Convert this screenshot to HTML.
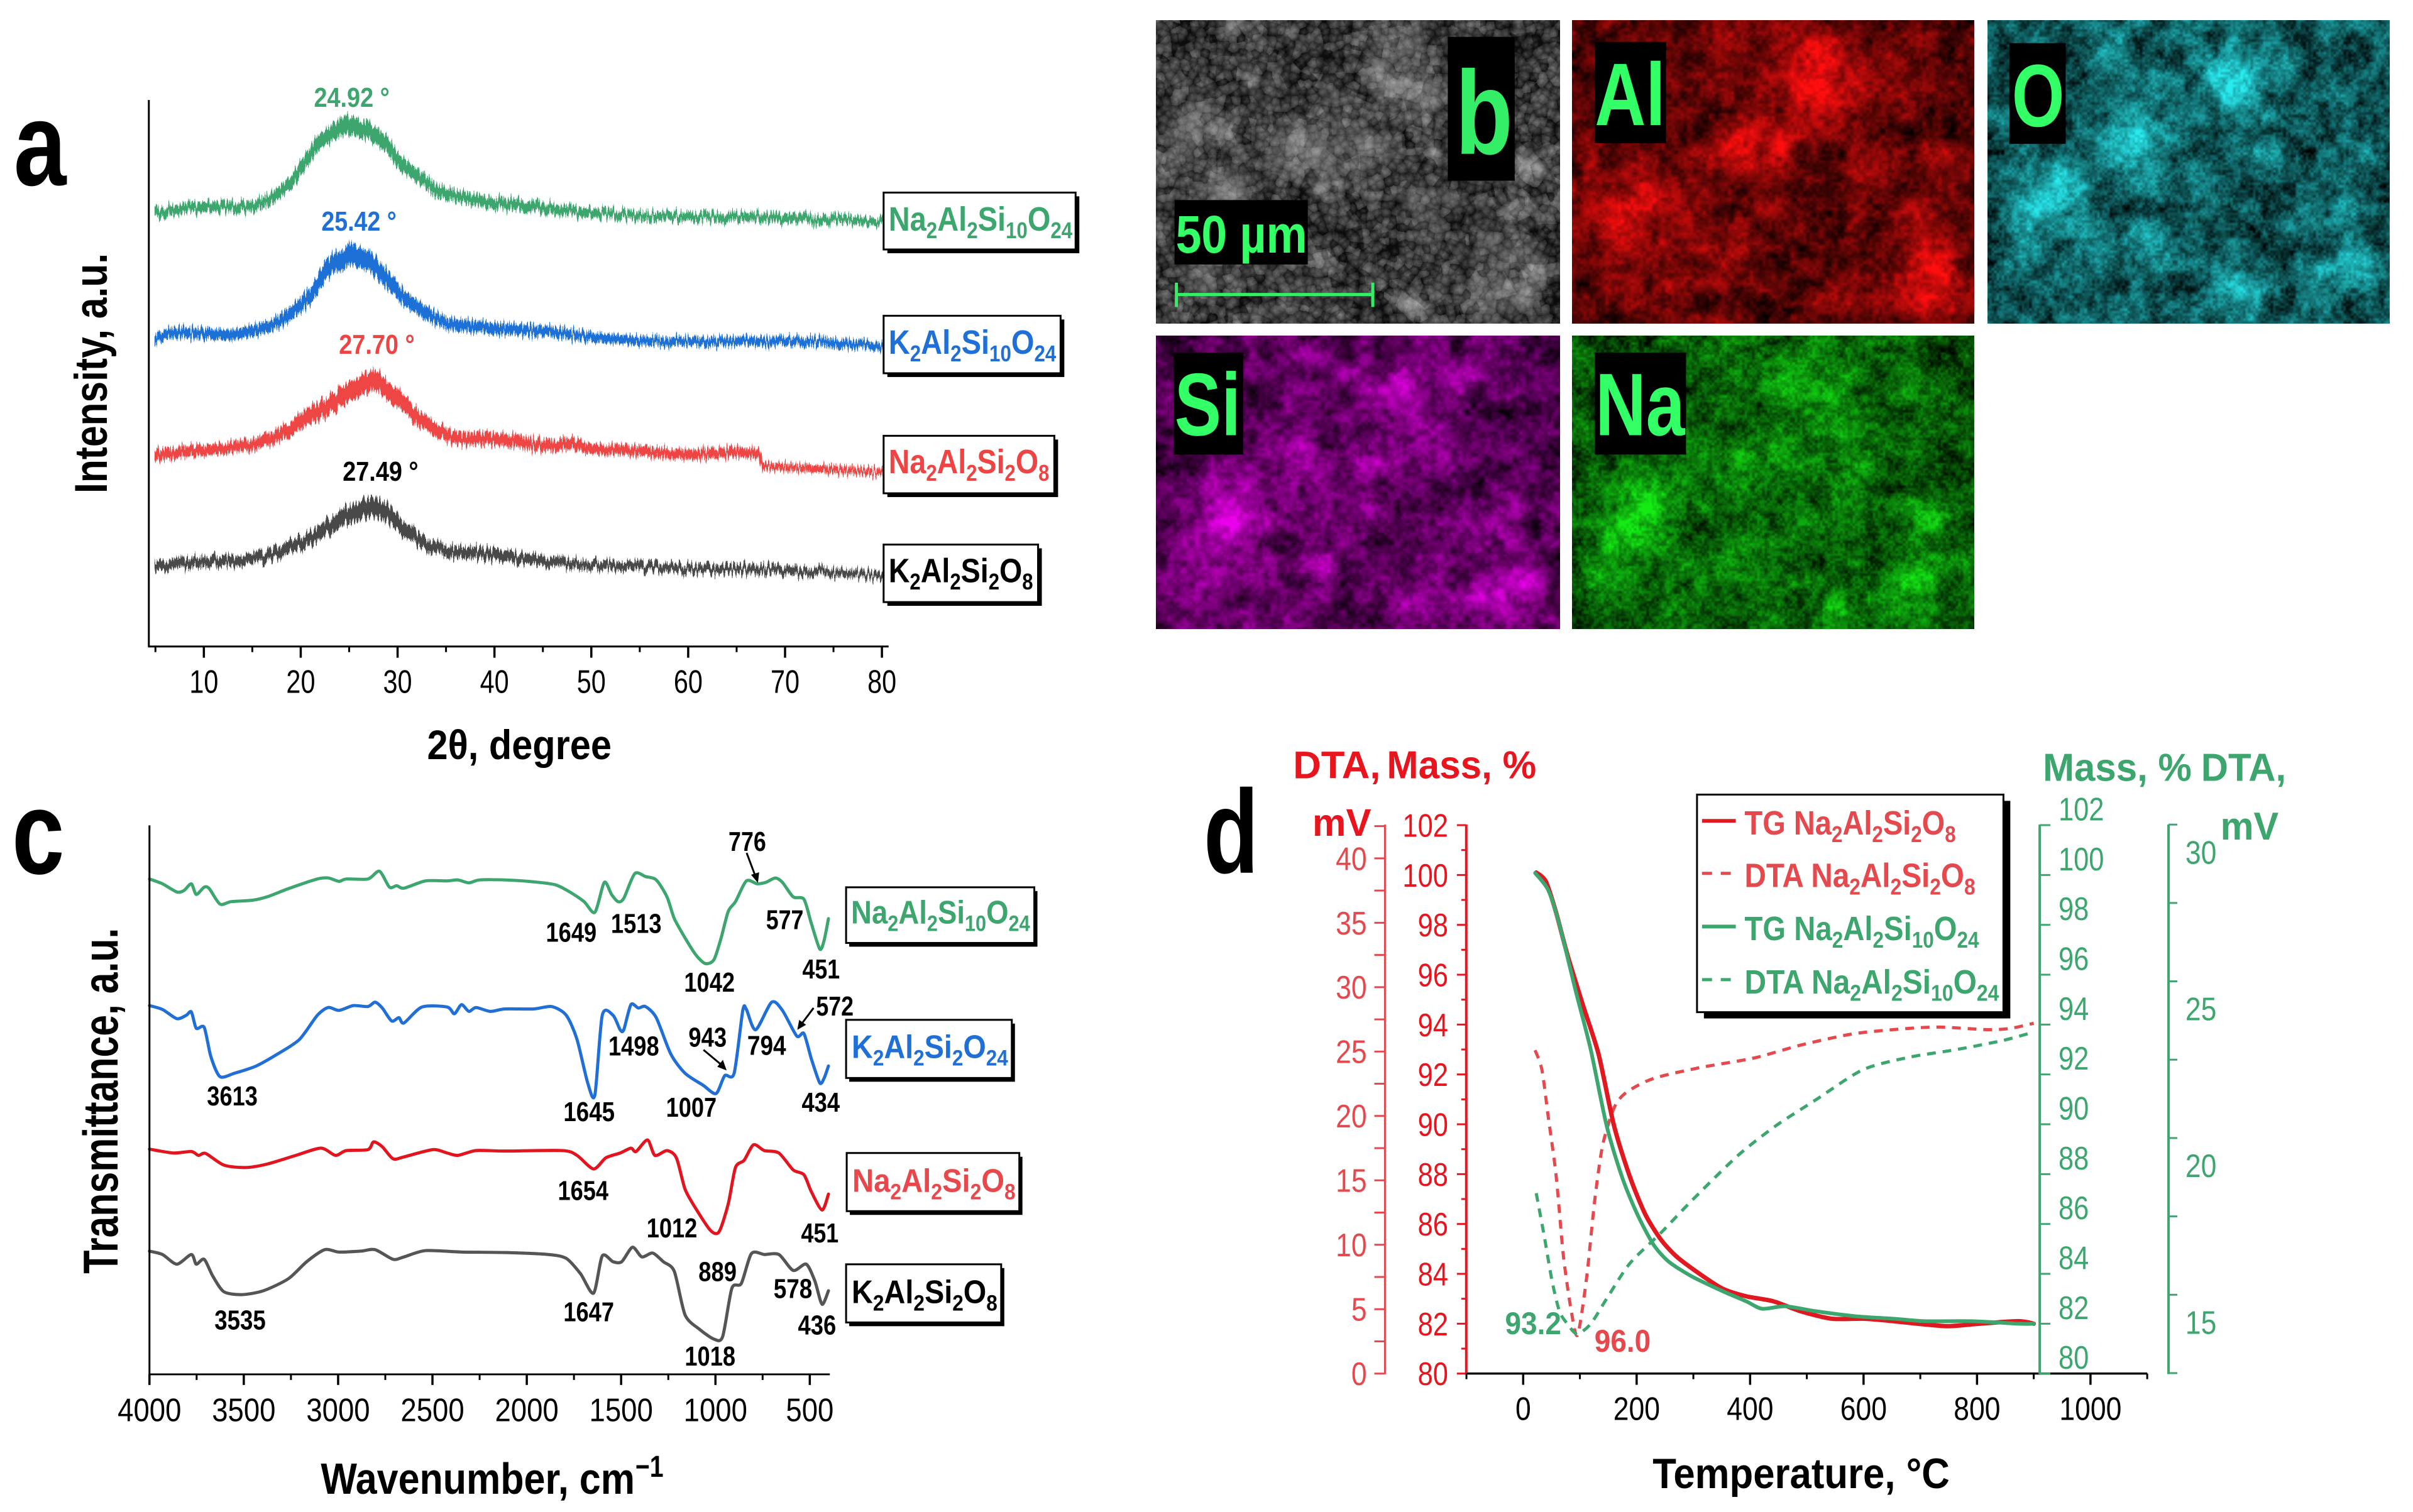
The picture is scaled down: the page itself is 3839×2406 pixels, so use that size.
<!DOCTYPE html>
<html lang="en">
<head>
<meta charset="utf-8">
<title>Aluminosilicate characterisation figure</title>
<style>
html,body{margin:0;padding:0;background:#fff}
#figure{position:relative;width:3839px;height:2406px;overflow:hidden;background:#fff}
canvas{position:absolute;display:block}
svg{position:absolute;left:0;top:0}
text{font-family:"Liberation Sans",sans-serif}
.b{font-weight:bold}
</style>
</head>
<body>
<div id="figure">
<canvas id="map-sem" width="643" height="483" style="left:1839px;top:32px"></canvas>
<canvas id="map-al" width="640" height="483" style="left:2501px;top:32px"></canvas>
<canvas id="map-o" width="640" height="483" style="left:3162px;top:32px"></canvas>
<canvas id="map-si" width="643" height="467" style="left:1839px;top:534px"></canvas>
<canvas id="map-na" width="640" height="467" style="left:2501px;top:534px"></canvas>

<svg id="art" width="3839" height="2406" viewBox="0 0 3839 2406" xmlns="http://www.w3.org/2000/svg">
<defs>
<filter id="xrd-noise" filterUnits="userSpaceOnUse" x="230" y="130" width="1200" height="920">
<feTurbulence type="fractalNoise" baseFrequency="0.42 0.004" numOctaves="2" seed="4" result="n"/>
<feColorMatrix in="n" type="matrix" values="0 0 0 0 0.5  1.6 0 0 0 -0.3  0 0 0 0 0  0 0 0 0 1" result="m"/>
<feDisplacementMap in="SourceGraphic" in2="m" scale="20" xChannelSelector="R" yChannelSelector="G"/>
</filter>
</defs>

<!-- Panel a -->
<g id="panel-a" transform="scale(.9949)">
<g id="a-traces" filter="url(#xrd-noise)"></g>
<g id="a-axes"></g>
<text class="b" x="22" y="296" data-w="84" font-size="190" fill="#000">a</text>
<text class="b" x="171" y="789" data-r="-90" data-w="384" font-size="74" fill="#000">Intensity, a.u.</text>
<text class="b" x="683" y="1214" data-w="295" font-size="66" fill="#000">2θ, degree</text>
<text class="b" x="502" y="171" data-w="121" font-size="44" fill="#3ca66e">24.92 °</text>
<text class="b" x="514" y="369" data-w="120" font-size="44" fill="#1f6fd6">25.42 °</text>
<text class="b" x="542" y="566" data-w="121" font-size="44" fill="#ee4444">27.70 °</text>
<text class="b" x="548" y="769" data-w="121" font-size="44" fill="#000">27.49 °</text>

<g><rect x="1419" y="314" width="307" height="91" fill="#000"/><rect x="1413" y="308" width="307" height="91" fill="#fff" stroke="#000" stroke-width="3"/>
<text class="b" x="1421" y="369" data-w="294" font-size="54" fill="#3ca66e">Na<tspan dy="12" font-size="36">2</tspan><tspan dy="-12">Al</tspan><tspan dy="12" font-size="36">2</tspan><tspan dy="-12">Si</tspan><tspan dy="12" font-size="36">10</tspan><tspan dy="-12">O</tspan><tspan dy="12" font-size="36">24</tspan></text></g>
<g><rect x="1419" y="511" width="283" height="92" fill="#000"/><rect x="1413" y="505" width="283" height="92" fill="#fff" stroke="#000" stroke-width="3"/>
<text class="b" x="1421" y="566" data-w="268" font-size="54" fill="#1f6fd6">K<tspan dy="12" font-size="36">2</tspan><tspan dy="-12">Al</tspan><tspan dy="12" font-size="36">2</tspan><tspan dy="-12">Si</tspan><tspan dy="12" font-size="36">10</tspan><tspan dy="-12">O</tspan><tspan dy="12" font-size="36">24</tspan></text></g>
<g><rect x="1419" y="703" width="273" height="92" fill="#000"/><rect x="1413" y="697" width="273" height="92" fill="#fff" stroke="#000" stroke-width="3"/>
<text class="b" x="1421" y="757" data-w="257" font-size="54" fill="#ee4444">Na<tspan dy="12" font-size="36">2</tspan><tspan dy="-12">Al</tspan><tspan dy="12" font-size="36">2</tspan><tspan dy="-12">Si</tspan><tspan dy="12" font-size="36">2</tspan><tspan dy="-12">O</tspan><tspan dy="12" font-size="36">8</tspan></text></g>
<g><rect x="1419" y="877" width="247" height="92" fill="#000"/><rect x="1413" y="871" width="247" height="92" fill="#fff" stroke="#000" stroke-width="3"/>
<text class="b" x="1421" y="931" data-w="231" font-size="54" fill="#000">K<tspan dy="12" font-size="36">2</tspan><tspan dy="-12">Al</tspan><tspan dy="12" font-size="36">2</tspan><tspan dy="-12">Si</tspan><tspan dy="12" font-size="36">2</tspan><tspan dy="-12">O</tspan><tspan dy="12" font-size="36">8</tspan></text></g>
</g>

<!-- Panel b labels -->
<g id="panel-b" transform="translate(9.18 0) scale(.9949)">
<rect x="2306" y="59" width="107" height="230" fill="#000"/>
<text class="b" x="2318" y="246" data-w="92" font-size="190" fill="#33ee66">b</text>
<rect x="2541" y="67" width="114" height="162" fill="#000"/>
<text class="b" x="2541" y="200" data-w="113" font-size="142" fill="#33ff66">Al</text>
<rect x="3204" y="69" width="90" height="161" fill="#000"/>
<text class="b" x="3208" y="202" data-w="84" font-size="142" fill="#33ff66">O</text>
<rect x="1868" y="564" width="111" height="163" fill="#000"/>
<text class="b" x="1869" y="696" data-w="106" font-size="142" fill="#33ff66">Si</text>
<rect x="2541" y="564" width="146" height="163" fill="#000"/>
<text class="b" x="2542" y="696" data-w="143" font-size="142" fill="#33ff66">Na</text>
<rect x="1869" y="320" width="213" height="103" fill="#000"/>
<text class="b" x="1871" y="404" data-w="210" font-size="85" fill="#33ff66">50 µm</text>
<g stroke="#33ee66" stroke-width="5" fill="none">
<path d="M1872 471H2186M1872 452V491M2186 452V491"/>
</g>
</g>

<!-- Panel c -->
<g id="panel-c" transform="translate(0 6.12) scale(.9949)">
<g id="c-traces"></g>
<g id="c-axes"></g>
<text class="b" x="19" y="1391" data-w="84" font-size="190" fill="#000">c</text>
<text class="b" x="188" y="2031" data-r="-90" data-w="553" font-size="78" fill="#000">Transmittance, a.u.</text>
<text class="b" x="513" y="2383" data-w="502" font-size="70" fill="#000">Wavenumber, cm</text>
<text class="b" x="1016" y="2356" data-w="45" font-size="48" fill="#000">−1</text>

<g fill="#000" font-size="44">
<text class="b" x="1165" y="1355" data-w="60">776</text>
<text class="b" x="873" y="1500" data-w="81">1649</text>
<text class="b" x="977" y="1486" data-w="81">1513</text>
<text class="b" x="1225" y="1480" data-w="60">577</text>
<text class="b" x="1094" y="1580" data-w="81">1042</text>
<text class="b" x="1283" y="1559" data-w="60">451</text>
<text class="b" x="1305" y="1618" data-w="60">572</text>
<text class="b" x="1101" y="1668" data-w="61">943</text>
<text class="b" x="1195" y="1681" data-w="62">794</text>
<text class="b" x="973" y="1682" data-w="81">1498</text>
<text class="b" x="331" y="1762" data-w="81">3613</text>
<text class="b" x="901" y="1787" data-w="82">1645</text>
<text class="b" x="1065" y="1780" data-w="81">1007</text>
<text class="b" x="1282" y="1772" data-w="61">434</text>
<text class="b" x="892" y="1913" data-w="81">1654</text>
<text class="b" x="1034" y="1973" data-w="81">1012</text>
<text class="b" x="1281" y="1981" data-w="60">451</text>
<text class="b" x="1117" y="2043" data-w="61">889</text>
<text class="b" x="1237" y="2070" data-w="62">578</text>
<text class="b" x="343" y="2120" data-w="82">3535</text>
<text class="b" x="901" y="2107" data-w="81">1647</text>
<text class="b" x="1276" y="2128" data-w="61">436</text>
<text class="b" x="1095" y="2178" data-w="81">1018</text>
</g>

<g stroke="#000" stroke-width="3" fill="#000">
<path d="M1194 1358L1209 1398"/><path d="M1212 1406L1201 1393L1214 1389Z" stroke="none"/>
<path d="M1301 1606L1280 1634"/><path d="M1275 1641L1278 1625L1289 1633Z" stroke="none"/>
<path d="M1125 1673L1156 1699"/><path d="M1162 1706L1147 1700L1156 1689Z" stroke="none"/>
</g>

<g><rect x="1358" y="1419" width="301" height="89" fill="#000"/><rect x="1353" y="1413" width="301" height="89" fill="#fff" stroke="#000" stroke-width="3"/>
<text class="b" x="1361" y="1471" data-w="286" font-size="52" fill="#3ca66e">Na<tspan dy="12" font-size="35">2</tspan><tspan dy="-12">Al</tspan><tspan dy="12" font-size="35">2</tspan><tspan dy="-12">Si</tspan><tspan dy="12" font-size="35">10</tspan><tspan dy="-12">O</tspan><tspan dy="12" font-size="35">24</tspan></text></g>
<g><rect x="1358" y="1631" width="265" height="93" fill="#000"/><rect x="1353" y="1625" width="265" height="93" fill="#fff" stroke="#000" stroke-width="3"/>
<text class="b" x="1362" y="1686" data-w="250" font-size="52" fill="#1f6fd6">K<tspan dy="12" font-size="35">2</tspan><tspan dy="-12">Al</tspan><tspan dy="12" font-size="35">2</tspan><tspan dy="-12">Si</tspan><tspan dy="12" font-size="35">2</tspan><tspan dy="-12">O</tspan><tspan dy="12" font-size="35">24</tspan></text></g>
<g><rect x="1359" y="1844" width="276" height="93" fill="#000"/><rect x="1354" y="1838" width="276" height="93" fill="#fff" stroke="#000" stroke-width="3"/>
<text class="b" x="1363" y="1900" data-w="261" font-size="52" fill="#e8484c">Na<tspan dy="12" font-size="35">2</tspan><tspan dy="-12">Al</tspan><tspan dy="12" font-size="35">2</tspan><tspan dy="-12">Si</tspan><tspan dy="12" font-size="35">2</tspan><tspan dy="-12">O</tspan><tspan dy="12" font-size="35">8</tspan></text></g>
<g><rect x="1358" y="2022" width="248" height="93" fill="#000"/><rect x="1353" y="2016" width="248" height="93" fill="#fff" stroke="#000" stroke-width="3"/>
<text class="b" x="1362" y="2078" data-w="233" font-size="52" fill="#000">K<tspan dy="12" font-size="35">2</tspan><tspan dy="-12">Al</tspan><tspan dy="12" font-size="35">2</tspan><tspan dy="-12">Si</tspan><tspan dy="12" font-size="35">2</tspan><tspan dy="-12">O</tspan><tspan dy="12" font-size="35">8</tspan></text></g>
</g>

<!-- Panel d -->
<g id="panel-d" transform="translate(9.69 5.865) scale(.9949)">
<g id="d-axes"></g>
<g id="d-traces"></g>
<text class="b" x="1915" y="1390" data-w="88" font-size="190" fill="#000">d</text>
<text class="b" x="2058" y="1239" data-w="140" font-size="62" fill="#e8141e">DTA,</text>
<text class="b" x="2208" y="1239" data-w="239" font-size="62" fill="#e8141e">Mass, %</text>
<text class="b" x="2089" y="1331" data-w="94" font-size="62" fill="#e8141e">mV</text>
<text class="b" x="3257" y="1243" data-w="238" font-size="62" fill="#3ca66e">Mass, %</text>
<text class="b" x="3510" y="1243" data-w="136" font-size="62" fill="#3ca66e">DTA,</text>
<text class="b" x="3541" y="1337" data-w="93" font-size="62" fill="#3ca66e">mV</text>
<text class="b" x="2633" y="2374" data-w="475" font-size="68" fill="#000">Temperature, °C</text>
<text class="b" x="2397" y="2128" data-w="90" font-size="50" fill="#3ca66e">93.2</text>
<text class="b" x="2540" y="2156" data-w="90" font-size="50" fill="#e5484d">96.0</text>

<g>
<rect x="2715" y="1275" width="490" height="348" fill="#000"/>
<rect x="2704" y="1265" width="490" height="348" fill="#fff" stroke="#000" stroke-width="3"/>
<line x1="2712" y1="1307" x2="2766" y2="1307" stroke="#e01820" stroke-width="6"/>
<line x1="2712" y1="1391" x2="2766" y2="1391" stroke="#e5484d" stroke-width="5" stroke-dasharray="16 14"/>
<line x1="2712" y1="1476" x2="2766" y2="1476" stroke="#3ca66e" stroke-width="6"/>
<line x1="2712" y1="1561" x2="2766" y2="1561" stroke="#3ca66e" stroke-width="5" stroke-dasharray="16 14"/>
<text class="b" x="2780" y="1329" data-w="338" font-size="54" fill="#e5484d">TG Na<tspan dy="12" font-size="36">2</tspan><tspan dy="-12">Al</tspan><tspan dy="12" font-size="36">2</tspan><tspan dy="-12">Si</tspan><tspan dy="12" font-size="36">2</tspan><tspan dy="-12">O</tspan><tspan dy="12" font-size="36">8</tspan></text>
<text class="b" x="2780" y="1413" data-w="369" font-size="54" fill="#e5484d">DTA Na<tspan dy="12" font-size="36">2</tspan><tspan dy="-12">Al</tspan><tspan dy="12" font-size="36">2</tspan><tspan dy="-12">Si</tspan><tspan dy="12" font-size="36">2</tspan><tspan dy="-12">O</tspan><tspan dy="12" font-size="36">8</tspan></text>
<text class="b" x="2780" y="1498" data-w="375" font-size="54" fill="#3ca66e">TG Na<tspan dy="12" font-size="36">2</tspan><tspan dy="-12">Al</tspan><tspan dy="12" font-size="36">2</tspan><tspan dy="-12">Si</tspan><tspan dy="12" font-size="36">10</tspan><tspan dy="-12">O</tspan><tspan dy="12" font-size="36">24</tspan></text>
<text class="b" x="2780" y="1583" data-w="407" font-size="54" fill="#3ca66e">DTA Na<tspan dy="12" font-size="36">2</tspan><tspan dy="-12">Al</tspan><tspan dy="12" font-size="36">2</tspan><tspan dy="-12">Si</tspan><tspan dy="12" font-size="36">10</tspan><tspan dy="-12">O</tspan><tspan dy="12" font-size="36">24</tspan></text>
</g>
</g>
</svg>
</div>

<script>
// ---------- Panel a: XRD (2-theta, intensity a.u., trace thickness a.u.) ----------
const xrdGreenTheta = [5,7.5,10,13,15,17,19,20,22,24,25,27,29,30,32,34,36,40,45,50,55,60,65,70,75,80];
const xrdGreenCounts = [865,875,878,877,878,895,925,955,1010,1035,1040,1030,1000,970,940,912,897,885,877,865,860,858,857,855,852,847];
const xrdGreenThickness = [15,15,16,16,16,18,20,22,25,30,32,30,26,24,22,20,18,18,16,14,13,13,13,14,13,11];
const xrdBlueTheta = [5,7,10,13,15,17,19,21,23,25,27,29,31,33,35,40,45,50,55,60,65,70,75,80];
const xrdBlueCounts = [615,627,625,622,630,640,665,700,760,783,770,730,690,665,645,635,630,618,610,608,610,610,607,600];
const xrdBlueThickness = [15,16,16,16,18,18,22,26,32,38,34,30,24,22,18,18,16,14,13,13,13,13,13,11];
const xrdRedTheta = [5,7.5,10,13,15,17,19,21,23,25,27.7,30,32,34,36,40,45,48,50,55,60,65,67.3,67.7,70,75,80];
const xrdRedCounts = [380,388,392,398,402,415,435,460,482,508,535,495,460,430,415,415,400,405,395,390,382,388,385,360,358,353,348];
const xrdRedThickness = [17,17,17,17,18,20,24,28,32,34,34,30,26,22,20,20,18,18,16,15,15,15,15,10,10,10,9];
const xrdGreyTheta = [5,10,13,15,17,19,21,23,25,27.5,29,31,33,35,40,45,50,55,60,65,70,75,80];
const xrdGreyCounts = [160,170,170,175,182,200,215,240,265,280,265,230,205,190,185,170,162,160,155,155,152,148,142];
const xrdGreyThickness = [15,16,16,16,18,20,22,26,30,34,30,24,20,18,18,15,13,13,13,13,13,11,10];
const xrdMajorTicks = [10,20,30,40,50,60,70,80];
const xrdMinorTicks = [5,15,25,35,45,55,65,75];

// ---------- Panel c: FTIR (wavenumber cm-1, transmittance a.u.) ----------
const ftirGreenWave = [4000,3931,3855,3817,3778,3752,3710,3683,3626,3568,3454,3377,3263,3110,3052,2995,2957,2842,2781,2728,2689,2651,2537,2422,2365,2307,2250,2116,1963,1849,1772,1696,1639,1589,1551,1516,1486,1428,1371,1314,1257,1218,1161,1104,1054,1008,970,932,894,836,779,733,683,645,588,531,492,447,424,401];
const ftirGreenT = [1025,1015,998,1001,1015,993,1008,1005,973,978,981,988,1005,1025,1027,1020,1025,1025,1041,1008,1011,1006,1021,1021,1023,1017,1023,1023,1019,1013,998,978,956,1018,993,978,985,1036,1030,1023,988,943,903,868,850,858,903,958,978,1021,1015,1018,1027,1018,988,983,933,880,898,943];
const ftirBlueWave = [4000,3931,3855,3805,3778,3752,3710,3675,3626,3549,3434,3320,3205,3110,3052,2995,2919,2842,2804,2766,2716,2678,2651,2556,2422,2384,2346,2307,2269,2193,2116,1963,1868,1791,1734,1677,1639,1600,1543,1505,1486,1448,1409,1371,1314,1237,1161,1065,997,951,901,855,836,787,702,645,569,531,492,447,424,401];
const ftirBlueT = [763,755,736,743,750,716,718,658,616,623,638,663,693,743,759,753,763,761,770,758,731,738,727,760,760,746,765,751,759,751,756,756,761,743,693,603,578,743,743,713,713,765,758,761,738,663,623,598,581,618,623,753,755,713,770,753,700,705,653,603,613,638];
const ftirRedWave = [4000,3874,3778,3740,3702,3606,3492,3377,3224,3091,3014,2957,2842,2812,2766,2709,2651,2498,2422,2365,2269,2116,1811,1734,1646,1581,1505,1448,1421,1360,1321,1257,1207,1161,1104,1027,981,932,894,848,798,741,664,588,531,492,435,401];
const ftirRedT = [466,458,461,453,457,433,428,435,453,468,453,463,465,481,471,446,450,465,458,453,463,462,463,453,425,448,458,468,461,485,453,463,448,383,343,298,295,353,428,443,475,463,458,423,413,378,340,373];
const ftirGreyWave = [4000,3931,3855,3778,3752,3710,3664,3606,3511,3396,3263,3167,3071,2995,2880,2804,2709,2651,2537,2346,2116,1887,1791,1715,1646,1600,1543,1497,1440,1390,1333,1276,1218,1161,1084,1008,962,913,863,809,741,664,588,519,473,435,401];
const ftirGreyT = [255,248,228,248,228,238,203,171,165,173,198,233,258,253,255,258,238,243,256,253,252,248,240,208,168,245,233,233,263,243,251,233,213,123,93,73,78,178,188,250,248,248,215,228,193,145,173];
const ftirMajorTicks = [4000,3500,3000,2500,2000,1500,1000,500];
const ftirMinorTicks = [3750,3250,2750,2250,1750,1250,750];

// ---------- Panel d: thermal analysis (temperature C, mass %, DTA mV) ----------
const tgRedTemp = [23,40,58,78,105,133,160,188,215,242,270,311,352,393,441,489,544,599,653,695,749,804,873,900];
const tgRedMass = [100.1,99.74,98.5,96.8,94.8,92.8,89.95,87.9,86.4,85.4,84.7,84.0,83.4,83.1,82.9,82.5,82.2,82.2,82.1,82.0,81.9,82.0,82.1,82.0];
const tgGreenTemp = [21,44,64,92,119,147,174,201,229,256,297,352,393,421,462,516,585,653,708,790,873,900];
const tgGreenMass = [100.08,99.4,98.0,95.4,93.0,89.95,87.9,86.4,85.2,84.5,83.9,83.3,82.9,82.6,82.7,82.5,82.3,82.2,82.1,82.1,82.0,82.0];
const dtaRedTemp = [21,33,44,58,71,85,96,112,126,140,160,181,229,311,407,489,585,681,736,818,859,900];
const dtaRedMv = [25.1,23.6,20.0,15.4,9.1,4.8,3.0,7.5,13.4,17.7,20.6,21.8,22.9,23.75,24.5,25.5,26.4,26.8,26.9,26.7,26.8,27.2];
const dtaGreenTemp = [23,37,51,64,78,95,119,147,188,242,297,379,447,516,599,681,763,845,900];
const dtaGreenMv = [18.24,16.88,15.43,14.47,14.07,13.75,14.07,14.87,16.0,16.96,18.0,19.45,20.41,21.22,22.18,22.58,22.82,23.11,23.38];
const tempMajorTicks = [0,200,400,600,800,1000];
const tempMinorTicks = [-100,100,300,500,700,900,1100];
const massTicks = [80,82,84,86,88,90,92,94,96,98,100,102];
const massMinorTicks = [81,83,85,87,89,91,93,95,97,99,101];
const dtaLeftLabels = [0,5,10,15,20,25,30,35,40];
const dtaLeftMinorTicks = [2.5,7.5,12.5,17.5,22.5,27.5,32.5,37.5,42.5];
const dtaRightLabels = [15,20,25,30];
const dtaRightMinorTicks = [12.5,17.5,22.5,27.5];

// ---------- Axis functions ----------
const xA = v => 326 + (v - 10) * 15.49;
const yA = v => 1034 - v * 0.8013;
const xC = v => 239 + (4000 - v) * 0.3017;
const yC = v => 2192 - v * 0.773;
const xD = v => 2426 + v * 0.9072;
const yMass = v => 2191 - (v - 80) * 39.87;
const yDtaL = v => 2191 - v * 20.6;
const yDtaR = v => 1313 + (30 - v) * 50.13;

const NS = 'http://www.w3.org/2000/svg';
function seg(parent, name, x1, y1, x2, y2, color, width) {
  const el = document.createElementNS(NS, 'line');
  
  
  el.setAttribute('x1', x1); el.setAttribute('y1', y1);
  el.setAttribute('x2', x2); el.setAttribute('y2', y2);
  el.setAttribute('stroke', color); el.setAttribute('stroke-width', width);
  parent.appendChild(el);
  return el;
}
function tickLabel(parent, name, x, y, str, color, anchor, sx) {
  const el = document.createElementNS(NS, 'text');
  
  
  el.setAttribute('transform', 'translate(' + x + ' ' + y + ') scale(' + sx + ' 1)');
  el.setAttribute('text-anchor', anchor);
  el.setAttribute('font-size', 52);
  el.setAttribute('fill', color);
  el.textContent = str;
  parent.appendChild(el);
  return el;
}
function trace(parent, name, xs, ys, color, width, dash) {
  const el = document.createElementNS(NS, 'path');
  
  
  let d = 'M' + xs[0].toFixed(1) + ' ' + ys[0].toFixed(1);
  const k = 0.13;
  for (let i = 0; i < xs.length - 1; i++) {
    const a = Math.max(i - 1, 0), b = Math.min(i + 2, xs.length - 1);
    const c1x = xs[i] + (xs[i + 1] - xs[a]) * k, c1y = ys[i] + (ys[i + 1] - ys[a]) * k;
    const c2x = xs[i + 1] - (xs[b] - xs[i]) * k, c2y = ys[i + 1] - (ys[b] - ys[i]) * k;
    d += 'C' + c1x.toFixed(1) + ' ' + c1y.toFixed(1) + ' ' + c2x.toFixed(1) + ' ' + c2y.toFixed(1) + ' ' + xs[i + 1].toFixed(1) + ' ' + ys[i + 1].toFixed(1);
  }
  el.setAttribute('d', d);
  el.setAttribute('fill', 'none');
  el.setAttribute('stroke', color);
  el.setAttribute('stroke-width', width);
  el.setAttribute('stroke-linejoin', 'round');
  el.setAttribute('stroke-linecap', dash ? 'butt' : 'round');
  if (dash) el.setAttribute('stroke-dasharray', dash);
  parent.appendChild(el);
  return el;
}
function band(parent, name, theta, counts, thick, color) {
  const el = document.createElementNS(NS, 'polygon');
  
  
  const top = theta.map((t, i) => xA(t).toFixed(1) + ',' + yA(counts[i] + thick[i] / 2).toFixed(1));
  const bot = theta.map((t, i) => xA(t).toFixed(1) + ',' + yA(counts[i] - thick[i] / 2).toFixed(1)).reverse();
  el.setAttribute('points', top.concat(bot).join(' '));
  el.setAttribute('fill', color);
  el.setAttribute('stroke', color);
  el.setAttribute('stroke-width', 3);
  parent.appendChild(el);
  return el;
}

// ---------- Draw panel a ----------
const aTraces = document.getElementById('a-traces');
const aAxes = document.getElementById('a-axes');
band(aTraces, 'xrd-trace-na-si10', xrdGreenTheta, xrdGreenCounts, xrdGreenThickness, '#3ca66e');
band(aTraces, 'xrd-trace-k-si10', xrdBlueTheta, xrdBlueCounts, xrdBlueThickness, '#1f6fd6');
band(aTraces, 'xrd-trace-na-si2', xrdRedTheta, xrdRedCounts, xrdRedThickness, '#ee4444');
band(aTraces, 'xrd-trace-k-si2', xrdGreyTheta, xrdGreyCounts, xrdGreyThickness, '#4a4a4a');
seg(aAxes, 'xrd-y-axis', 238, 160, 238, 1035, '#000', 3);
seg(aAxes, 'xrd-x-axis', 237, 1034, 1421, 1034, '#000', 3);
xrdMajorTicks.forEach(v => {
  seg(aAxes, 'xrd-major-tick', xA(v), 1034, xA(v), 1052, '#000', 3.5);
  tickLabel(aAxes, 'xrd-tick-label', xA(v), 1108, String(v), '#000', 'middle', 0.8);
});
xrdMinorTicks.forEach(v => seg(aAxes, 'xrd-minor-tick', xA(v), 1034, xA(v), 1043, '#000', 3));

// ---------- Draw panel c ----------
const cTraces = document.getElementById('c-traces');
const cAxes = document.getElementById('c-axes');
trace(cTraces, 'ftir-trace-na-si10', ftirGreenWave.map(xC), ftirGreenT.map(yC), '#3ca66e', 5);
trace(cTraces, 'ftir-trace-k-o24', ftirBlueWave.map(xC), ftirBlueT.map(yC), '#1f6fd6', 5);
trace(cTraces, 'ftir-trace-na-si2', ftirRedWave.map(xC), ftirRedT.map(yC), '#e3141e', 5);
trace(cTraces, 'ftir-trace-k-si2', ftirGreyWave.map(xC), ftirGreyT.map(yC), '#555555', 5);
seg(cAxes, 'ftir-y-axis', 239, 1314, 239, 2193, '#000', 3);
seg(cAxes, 'ftir-x-axis', 238, 2192, 1327, 2192, '#000', 3);
ftirMajorTicks.forEach(v => {
  seg(cAxes, 'ftir-major-tick', xC(v), 2192, xC(v), 2209, '#000', 3.5);
  tickLabel(cAxes, 'ftir-tick-label', xC(v), 2267, String(v), '#000', 'middle', 0.88);
});
ftirMinorTicks.forEach(v => seg(cAxes, 'ftir-minor-tick', xC(v), 2192, xC(v), 2201, '#000', 3));

// ---------- Draw panel d ----------
const dAxes = document.getElementById('d-axes');
const dTraces = document.getElementById('d-traces');
const RED = '#e8141e', LRED = '#e5484d', GRN = '#3ca66e';
seg(dAxes, 'dta-left-axis', 2205, 1313, 2205, 2192, LRED, 3);
seg(dAxes, 'mass-left-axis', 2335, 1313, 2335, 2192, RED, 4);
seg(dAxes, 'temperature-axis', 2336, 2191, 3424, 2191, '#000', 3.5);
seg(dAxes, 'mass-right-axis', 3252, 1313, 3252, 2192, GRN, 4);
seg(dAxes, 'dta-right-axis', 3458, 1313, 3458, 2192, GRN, 4);
dtaLeftLabels.forEach(v => {
  seg(dAxes, 'dta-left-tick', 2188, yDtaL(v), 2205, yDtaL(v), LRED, 3);
  tickLabel(dAxes, 'dta-left-tick-label', 2176, yDtaL(v) + 18.5, String(v), LRED, 'end', 0.86);
});
dtaLeftMinorTicks.forEach(v => seg(dAxes, 'dta-left-minor-tick', 2188, yDtaL(v), 2205, yDtaL(v), LRED, 3));
massTicks.forEach(v => {
  seg(dAxes, 'mass-left-tick', 2320, yMass(v), 2335, yMass(v), RED, 3);
  tickLabel(dAxes, 'mass-left-tick-label', 2306, yMass(v) + 18.5, String(v), RED, 'end', 0.84);
  seg(dAxes, 'mass-right-tick', 3252, yMass(v), 3269, yMass(v), GRN, 3);
  tickLabel(dAxes, 'mass-right-tick-label', 3282, yMass(v) - 26 + 18.5, String(v), GRN, 'start', 0.84);
});
massMinorTicks.forEach(v => seg(dAxes, 'mass-left-minor-tick', 2327, yMass(v), 2335, yMass(v), RED, 3));
dtaRightLabels.forEach(v => {
  seg(dAxes, 'dta-right-tick', 3458, yDtaR(v), 3472, yDtaR(v), GRN, 3);
  tickLabel(dAxes, 'dta-right-tick-label', 3485, yDtaR(v) + 44 + 18.5, String(v), GRN, 'start', 0.86);
});
dtaRightMinorTicks.forEach(v => seg(dAxes, 'dta-right-minor-tick', 3458, yDtaR(v), 3472, yDtaR(v), GRN, 3));
tempMajorTicks.forEach(v => {
  seg(dAxes, 'temperature-major-tick', xD(v), 2191, xD(v), 2209, '#000', 3.5);
  tickLabel(dAxes, 'temperature-tick-label', xD(v), 2265, String(v), '#000', 'middle', 0.86);
});
tempMinorTicks.forEach(v => seg(dAxes, 'temperature-minor-tick', xD(v), 2191, xD(v), 2200, '#000', 3));
trace(dTraces, 'dta-trace-red', dtaRedTemp.map(xD), dtaRedMv.map(yDtaL), LRED, 5, '14 11');
trace(dTraces, 'dta-trace-green', dtaGreenTemp.map(xD), dtaGreenMv.map(yDtaR), GRN, 5, '14 11');
trace(dTraces, 'tg-trace-red', tgRedTemp.map(xD), tgRedMass.map(yMass), '#e01820', 7);
trace(dTraces, 'tg-trace-green', tgGreenTemp.map(xD), tgGreenMass.map(yMass), GRN, 6);

// ---------- Fit static text to its measured width ----------
document.querySelectorAll('text[data-w]').forEach(t => {
  const x = t.getAttribute('x'), y = t.getAttribute('y');
  const r = t.getAttribute('data-r') || 0;
  const len = t.getComputedTextLength();
  const s = (+t.getAttribute('data-w') / len).toFixed(4);
  t.removeAttribute('x');
  t.removeAttribute('y');
  t.setAttribute('transform', 'translate(' + x + ' ' + y + ') rotate(' + r + ') scale(' + s + ' 1)');
});

// ---------- Micrograph textures (bright regions placed by eye: x, y, radius, strength) ----------
const semBlobs = [[.665,.244,.055,.7],[.575,.237,.04,.45],[.54,.175,.035,.5],[.62,.08,.05,.3],[.24,.195,.02,.6],[.33,.04,.015,.7],[.19,.015,.025,.9],[.08,.38,.065,.5],[.165,.36,.03,.5],[.3,.45,.045,.55],[.4,.42,.065,.55],[.52,.44,.045,.5],[.35,.36,.04,.4],[.185,.555,.05,.7],[.41,.555,.025,.75],[.455,.54,.015,.7],[.94,.485,.02,.9],[.9,.47,.018,.8],[.69,.44,.02,.6],[.88,.63,.035,.6],[.735,.58,.025,.45],[.64,.59,.025,.55],[.67,.69,.05,.3],[.82,.73,.03,.45],[.89,.77,.025,.5],[.94,.82,.03,.5],[.4,.78,.035,.45],[.12,.83,.03,.45],[.64,.94,.03,.65],[.595,.92,.02,.6],[.84,.9,.065,.5],[.91,.91,.03,.55],[.25,.97,.02,.6],[.31,.94,.02,.5]];
const alBlobs = [[.6,.09,.05,.6],[.63,.23,.09,.75],[.53,.17,.07,.5],[.43,.41,.06,1],[.52,.42,.035,.7],[.17,.59,.09,.75],[.1,.71,.08,.4],[.39,.77,.05,.5],[.88,.75,.03,.8],[.92,.81,.03,.8],[.88,.9,.08,.7],[.33,.45,.04,.5],[.91,.45,.035,.6],[.75,.14,.06,.4],[.65,.89,.05,.4],[.86,.64,.045,.45],[.37,.11,.06,.3],[.2,.86,.08,.35],[.75,.5,.06,.3],[.5,.6,.06,.3],[.12,.3,.05,.2],[.3,.7,.05,.25]];
const oBlobs = [[.585,.16,.05,.65],[.61,.226,.07,.85],[.39,.39,.07,.7],[.17,.56,.07,.9],[.11,.61,.05,.6],[.3,.43,.05,.6],[.7,.43,.05,.6],[.86,.61,.04,.5],[.39,.75,.05,.6],[.63,.9,.06,.7],[.92,.79,.04,.7],[.82,.86,.05,.6],[.09,.75,.04,.5],[.31,.09,.06,.45],[.72,.14,.05,.4],[.94,.46,.04,.45],[.55,.55,.07,.3],[.24,.85,.07,.3],[.4,.22,.05,.25]];
const siBlobs = [[.62,.21,.07,.85],[.19,.59,.07,1],[.34,.08,.06,.45],[.53,.41,.05,.55],[.71,.43,.05,.7],[.35,.42,.07,.55],[.87,.63,.045,.6],[.14,.78,.08,.65],[.4,.78,.05,.55],[.85,.89,.08,.7],[.63,.94,.06,.6],[.91,.82,.05,.5],[.51,.15,.05,.5],[.75,.13,.05,.45],[.71,.72,.06,.3],[.5,.62,.06,.3],[.3,.92,.06,.25]];
const naBlobs = [[.62,.2,.08,.75],[.18,.56,.08,1],[.53,.42,.05,.55],[.71,.43,.05,.65],[.37,.42,.07,.55],[.88,.63,.04,.75],[.12,.76,.08,.6],[.85,.87,.08,.65],[.65,.94,.05,.8],[.39,.03,.05,.4],[.53,.15,.05,.55],[.85,.16,.05,.4],[.41,.76,.06,.45],[.6,.65,.07,.3],[.25,.92,.06,.3]];

function hash(ix, iy, s) {
  let h = (ix * 374761393 + iy * 668265263 + s * 2147483) | 0;
  h = Math.imul(h ^ (h >>> 13), 1274126177);
  return ((h ^ (h >>> 16)) >>> 0) / 4294967295;
}
function vnoise(x, y, cell, s) {
  const fx = x / cell, fy = y / cell;
  const ix = Math.floor(fx), iy = Math.floor(fy);
  let tx = fx - ix, ty = fy - iy;
  tx = tx * tx * (3 - 2 * tx); ty = ty * ty * (3 - 2 * ty);
  const a = hash(ix, iy, s), b = hash(ix + 1, iy, s), c = hash(ix, iy + 1, s), d = hash(ix + 1, iy + 1, s);
  return a + (b - a) * tx + (c - a) * ty + (a - b - c + d) * tx * ty;
}
function worley(x, y, cell, s) {
  const ix = Math.floor(x / cell), iy = Math.floor(y / cell);
  let best = 1e9, id = 0;
  for (let j = -1; j <= 1; j++) {
    for (let i = -1; i <= 1; i++) {
      const cx = (ix + i + hash(ix + i, iy + j, s)) * cell;
      const cy = (iy + j + hash(ix + i, iy + j, s + 1)) * cell;
      const d = (x - cx) * (x - cx) + (y - cy) * (y - cy);
      if (d < best) { best = d; id = hash(ix + i, iy + j, s + 2); }
    }
  }
  return [Math.sqrt(best) / cell, id];
}
function blobField(x, y, bl) {
  let f = 0;
  for (let k = 0; k < bl.length; k++) {
    const dx = x - bl[k][0], dy = y - bl[k][1], r = bl[k][2];
    f += bl[k][3] * Math.exp(-(dx * dx + dy * dy) / (r * r));
  }
  return f > 1 ? 1 : f;
}
function paint(id, blobs, peak, base, gain, seed, cells, amps) {
  const cv = document.getElementById(id);
  const ctx = cv.getContext('2d');
  const w = cv.width, h = cv.height;
  const im = ctx.createImageData(w, h);
  const bl = blobs.map(b => [b[0] * w, b[1] * h, b[2] * w * 1.15, b[3]]);
  for (let y = 0; y < h; y++) {
    for (let x = 0; x < w; x++) {
      let v = base + gain * blobField(x, y, bl);
      v += amps[0] * (vnoise(x, y, cells[0], seed) - 0.5);
      v += amps[1] * (vnoise(x, y, cells[1], seed + 7) - 0.5);
      v += amps[2] * (vnoise(x, y, cells[2], seed + 13) - 0.5);
      v = Math.max(0.02, Math.min(1, v));
      const p = (y * w + x) * 4;
      im.data[p] = peak[0] * v;
      im.data[p + 1] = peak[1] * v;
      im.data[p + 2] = peak[2] * v;
      im.data[p + 3] = 255;
    }
  }
  ctx.putImageData(im, 0, 0);
}
function paintSem(id, blobs, seed) {
  const cv = document.getElementById(id);
  const ctx = cv.getContext('2d');
  const w = cv.width, h = cv.height;
  const im = ctx.createImageData(w, h);
  const bl = blobs.map(b => [b[0] * w, b[1] * h, b[2] * w, b[3]]);
  for (let y = 0; y < h; y++) {
    for (let x = 0; x < w; x++) {
      const f = blobField(x, y, bl);
      const g1 = worley(x, y, 12, seed);
      const g2 = worley(x, y, 30, seed + 5);
      let v = 0.23 + 0.42 * f;
      v += (1 - f * 0.7) * (0.2 * (g1[1] - 0.5) - 0.24 * (g1[0] - 0.45));
      v += 0.14 * (g2[1] - 0.5) - 0.1 * (g2[0] - 0.45);
      v += 0.12 * (vnoise(x, y, 60, seed + 3) - 0.5);
      v += 0.08 * (vnoise(x, y, 3, seed + 9) - 0.5);
      v = Math.max(0.05, Math.min(0.92, v));
      const p = (y * w + x) * 4;
      im.data[p] = im.data[p + 1] = im.data[p + 2] = 245 * v;
      im.data[p + 3] = 255;
    }
  }
  ctx.putImageData(im, 0, 0);
}
paintSem('map-sem', semBlobs, 3);
paint('map-al', alBlobs, [255,14,14], 0.34, 0.52, 11, [30,11,5], [0.36,0.32,0.2]);
paint('map-o', oBlobs, [40,235,240], 0.34, 0.52, 23, [30,11,4], [0.36,0.3,0.26]);
paint('map-si', siBlobs, [235,0,235], 0.32, 0.55, 37, [30,11,5], [0.36,0.3,0.18]);
paint('map-na', naBlobs, [20,235,20], 0.36, 0.52, 51, [30,11,4], [0.34,0.3,0.28]);
</script>
</body>
</html>
